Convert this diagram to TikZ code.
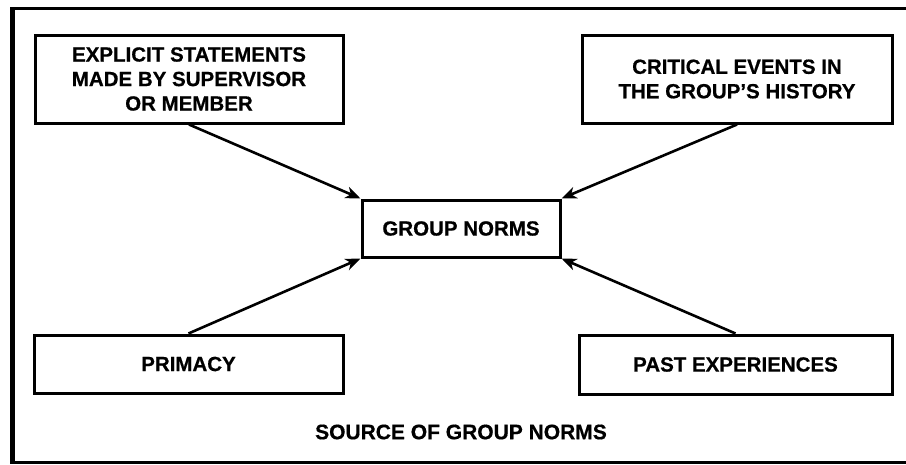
\documentclass[tikz,border=0pt]{standalone}
\usepackage{fontspec}
\setmainfont{Liberation Sans}[BoldFeatures={FakeBold=0.6}]
\usetikzlibrary{arrows.meta}
\begin{document}
\begin{tikzpicture}[x=1pt,y=-1pt,
  srcbox/.style={draw, line width=3pt, inner sep=0pt, align=center,
    font=\fontsize{20.5}{24.5}\selectfont\bfseries},
  flow/.style={line width=2.6pt, -{Stealth[length=15pt,width=12pt,inset=4.5pt]}}]
  \useasboundingbox (0,0) rectangle (906,464);
  % outer frame, open on the right
  \draw[line width=3.5pt] (906,8.5) -- (11,8.5);
  \draw[line width=5pt] (12,7) -- (12,463);
  \draw[line width=3pt] (10,462) -- (906,462);

  \node[srcbox, minimum width=308pt, minimum height=88pt] (expl) at (189,79)
    {EXPLICIT STATEMENTS\\MADE BY SUPERVISOR\\OR MEMBER};
  \node[srcbox, minimum width=310pt, minimum height=88pt] (crit) at (737,79)
    {CRITICAL EVENTS IN\\THE GROUP'S HISTORY};
  \node[srcbox, minimum width=198pt, minimum height=57pt] (norms) at (461,228.5)
    {GROUP NORMS};
  \node[srcbox, minimum width=309pt, minimum height=58pt] (prim) at (188.5,364)
    {PRIMACY};
  \node[srcbox, minimum width=313pt, minimum height=59pt] (past) at (735.5,364.5)
    {PAST EXPERIENCES};
  \node[font=\fontsize{21}{25}\selectfont\bfseries\addfontfeature{FakeBold=1.2}] (title) at (461,432)
    {SOURCE OF GROUP NORMS};

  \draw[flow] (expl.south) -- (norms.north west);
  \draw[flow] (crit.south) -- (norms.north east);
  \draw[flow] (prim.north) -- (norms.south west);
  \draw[flow] (past.north) -- (norms.south east);
\end{tikzpicture}
\end{document}
